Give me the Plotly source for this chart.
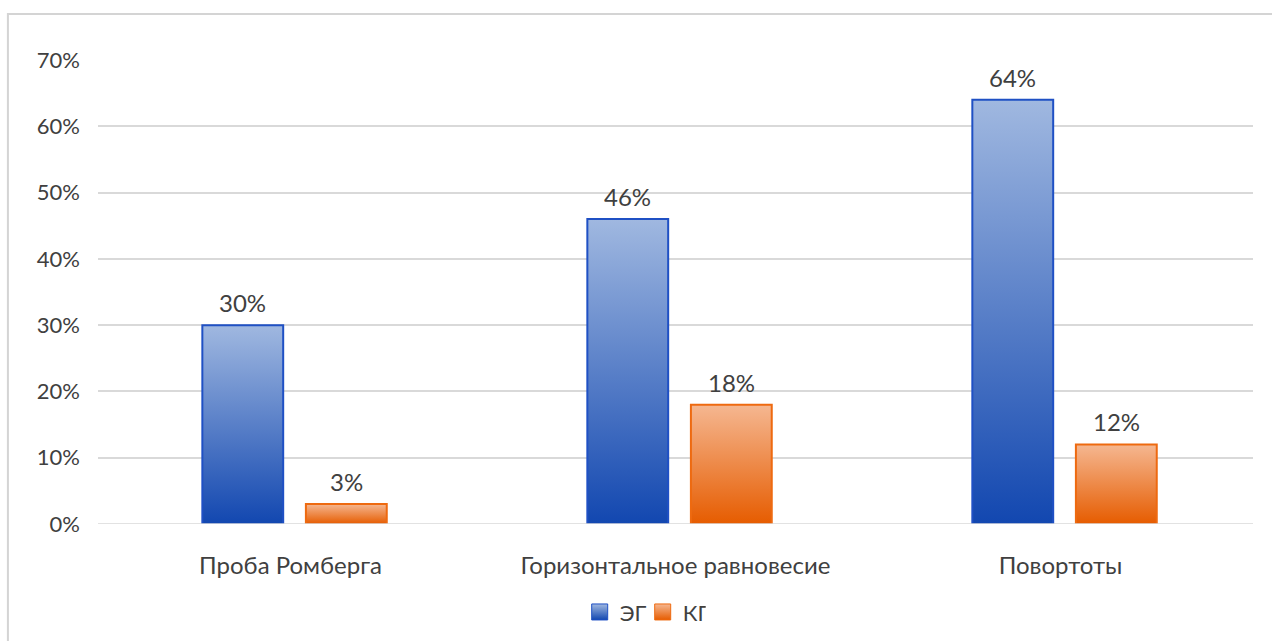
import plotly.graph_objects as go

# Share of participants who passed each balance test, by group
categories = ["Проба Ромберга", "Горизонтальное равновесие", "Повортоты"]
eg_values = [0.30, 0.46, 0.64]   # ЭГ – experimental group
kg_values = [0.03, 0.18, 0.12]   # КГ – control group
y_ticks = [0, 0.1, 0.2, 0.3, 0.4, 0.5, 0.6, 0.7]
y_tick_labels = ["0%", "10%", "20%", "30%", "40%", "50%", "60%", "70%"]

FONT = "Lato"
TEXT = "#404040"
GRID = "#d9d9d9"

series = [
    dict(name="ЭГ", values=eg_values, offset=-0.124,
         line="#1f50c4", bottom="#1247b0", top="#a0b8e0"),
    dict(name="КГ", values=kg_values, offset=0.145,
         line="#ee6a10", bottom="#e65c00", top="#f5b791"),
]
BAR_W = 0.21

fig = go.Figure()

for s in series:
    for i, v in enumerate(s["values"]):
        cx = i + s["offset"]
        x0, x1 = cx - BAR_W / 2, cx + BAR_W / 2
        fig.add_trace(go.Scatter(
            x=[x0, x0, x1, x1, x0],
            y=[0, v, v, 0, 0],
            mode="lines",
            fill="toself",
            fillgradient=dict(type="vertical",
                              colorscale=[[0, s["bottom"]], [1, s["top"]]]),
            line=dict(color=s["line"], width=2),
            name=s["name"],
            legendgroup=s["name"],
            showlegend=False,
            hoverinfo="skip",
            cliponaxis=False,
        ))
        # value label above the bar
        fig.add_annotation(
            x=cx, y=v, xref="x", yref="y",
            text=f"{round(v * 100)}%",
            showarrow=False, yanchor="bottom", yshift=6,
            font=dict(family=FONT, size=24, color=TEXT),
        )
    # legend swatch
    fig.add_trace(go.Scatter(
        x=[None], y=[None],
        mode="markers",
        name=s["name"],
        legendgroup=s["name"],
        marker=dict(symbol="square", size=16, color=s["top"],
                    gradient=dict(type="vertical", color=s["bottom"]),
                    line=dict(color=s["line"], width=1)),
        showlegend=True,
    ))

# baseline drawn over the bars
fig.add_shape(type="line", xref="paper", yref="y", x0=0, x1=1, y0=0, y1=0,
              line=dict(color=GRID, width=1.5), layer="above")

# outer chart frame
fig.add_shape(type="rect", xref="paper", yref="paper",
              x0=-0.078, x1=1.2, y0=-0.6, y1=1.099,
              line=dict(color="#d4d4d4", width=2), layer="below")

fig.update_layout(
    width=1272, height=641,
    margin=dict(l=98, r=19, t=60, b=117, autoexpand=False),
    paper_bgcolor="white",
    plot_bgcolor="white",
    font=dict(family=FONT, size=22, color=TEXT),
    showlegend=True,
    legend=dict(orientation="h", x=0.4716, xanchor="center",
                y=-0.19, yanchor="middle",
                font=dict(family=FONT, size=22, color=TEXT),
                itemwidth=30, tracegroupgap=0,
                entrywidth=18, entrywidthmode="pixels"),
    xaxis=dict(
        range=[-0.5, 2.5],
        tickmode="array",
        tickvals=list(range(len(categories))),
        ticktext=categories,
        showgrid=False, zeroline=False, showline=False,
        ticks="", ticklabelstandoff=25,
        tickfont=dict(family=FONT, size=24, color=TEXT),
        fixedrange=True,
    ),
    yaxis=dict(
        range=[0, 0.7],
        tickmode="array",
        tickvals=y_ticks,
        ticktext=y_tick_labels,
        showgrid=True, gridcolor=GRID, gridwidth=1.5,
        zeroline=False, showline=False,
        ticks="", ticklabelstandoff=17,
        tickfont=dict(family=FONT, size=22, color=TEXT),
        fixedrange=True,
    ),
)

fig.write_html("out.html")
